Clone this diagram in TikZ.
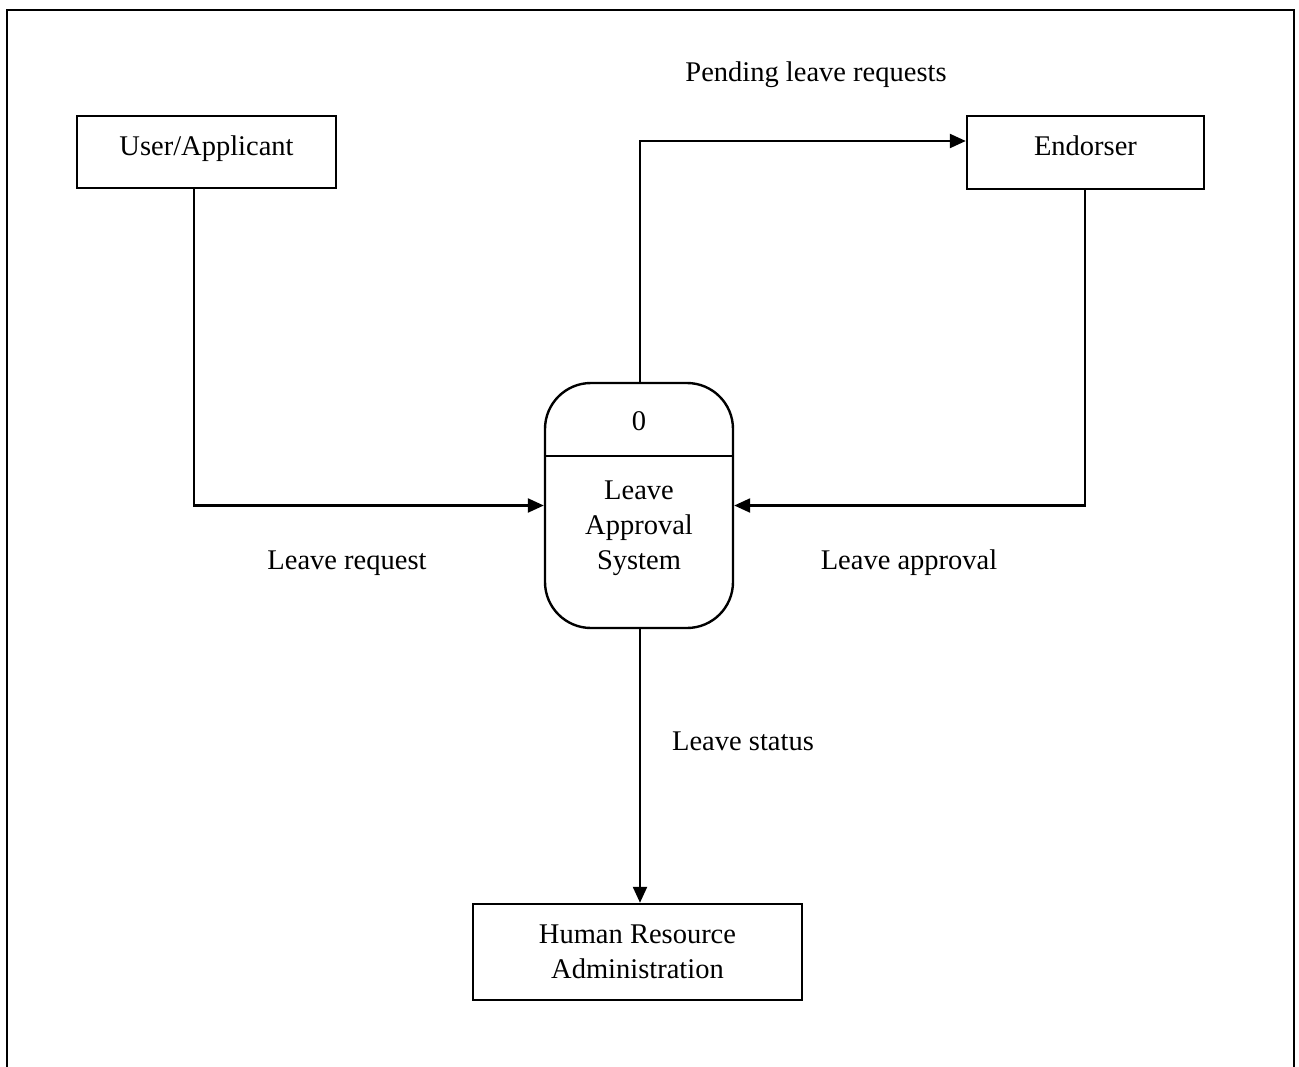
\documentclass[tikz,border=0pt]{standalone}
\usepackage{fontspec}
\setmainfont{Liberation Serif}
\usetikzlibrary{arrows.meta}
\begin{document}
\begin{tikzpicture}[x=1pt,y=-1pt,
  txt/.style={font=\fontsize{28.5}{35}\selectfont, align=center, inner sep=0pt},
  entity/.style={draw, line width=2.4pt, inner sep=0pt, txt},
  oneline/.style={text height=0.74em, text depth=0.26em},
  flow/.style={line width=2.3pt, -{Triangle[length=16pt,width=14pt]}}]
\useasboundingbox (0,0) rectangle (1299,1067);
% page frame, open at the bottom
\draw[line width=2.8pt] (7,1067) -- (7,10) -- (1294,10) -- (1294,1067);

% external entities
\node[entity, oneline, minimum width=259, minimum height=72] (user) at (206.5,152) {\raisebox{-1pt}{User/Applicant}};
\node[entity, oneline, minimum width=237, minimum height=73] (endo) at (1085.5,152.5) {\raisebox{-1pt}{Endorser}};
\node[entity, minimum width=329, minimum height=96] (hr) at (637.5,952) {Human Resource\\Administration};

% process
\node[draw, line width=2.4pt, rounded corners=46, minimum width=188, minimum height=245, inner sep=0pt] (proc) at (639,505.5) {};
\coordinate (div) at (639,456);
\draw[line width=2.2pt] (proc.west |- div) -- (proc.east |- div);
\node[txt] (pnum) at (639,421) {0};
\node[txt] (pname) at (639,528.5) {Leave\\Approval\\System};

% routing points
\coordinate (ubend) at (194,505.5);
\coordinate (ebend) at (1085,505.5);
\coordinate (tbend) at (640,141);

% data flows
\draw[flow] (user.south -| ubend) -- (ubend) -- (proc.west);
\draw[flow] (endo.south -| ebend) -- (ebend) -- (proc.east);
\draw[flow] (proc.north -| tbend) -- (tbend) -- (endo.west |- tbend);
\draw[flow] (proc.south -| tbend) -- (hr.north -| tbend);

% flow labels
\node[txt] (lpend) at (816,75) {Pending leave requests};
\node[txt] (lreq) at (347,563) {Leave request};
\node[txt] (lapp) at (909,563) {Leave approval};
\node[txt] (lstat) at (743,741) {Leave status};
\end{tikzpicture}
\end{document}
